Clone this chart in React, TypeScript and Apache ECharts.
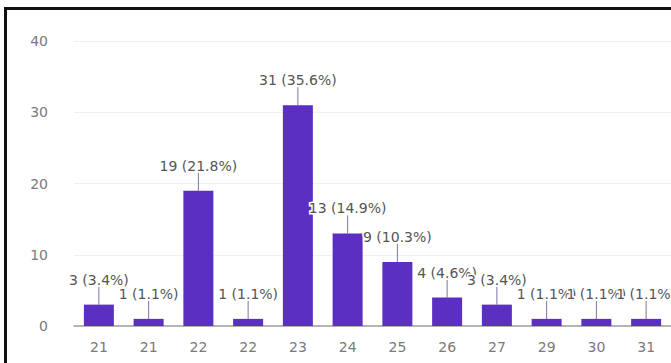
import React, { useEffect, useRef } from "react";
import * as echarts from "echarts";

// Age distribution of respondents (count per age)
const categories = ["21", "21", "22", "22", "23", "24", "25", "26", "27", "29", "30", "31"];
const counts = [3, 1, 19, 1, 31, 13, 9, 4, 3, 1, 1, 1];
const yTicks = { min: 0, max: 40, interval: 10 };

const total = counts.reduce((a, b) => a + b, 0);
const pctLabel = (v: number) => `${v} (${((v / total) * 100).toFixed(1)}%)`;

const FONT = "DejaVu Sans";
const BAR_COLOR = "#5a2fc2";
const LEADER = 18;

export default function App() {
  const ref = useRef<HTMLDivElement>(null);

  useEffect(() => {
    if (!ref.current) return;
    const chart = echarts.init(ref.current, null, { renderer: "svg" });
    chart.setOption({
      animation: false,
      backgroundColor: "#ffffff",
      grid: { left: 74, top: 41, width: 601, bottom: 37, containLabel: false },
      xAxis: {
        type: "category",
        data: categories,
        axisTick: { show: false },
        axisLine: { show: true, lineStyle: { color: "#9e9e9e", width: 1.5 } },
        axisLabel: { color: "#7a7a7a", fontFamily: FONT, fontSize: 14, margin: 14 },
        splitLine: { show: false },
      },
      yAxis: {
        type: "value",
        min: yTicks.min,
        max: yTicks.max,
        interval: yTicks.interval,
        axisLine: { show: false },
        axisTick: { show: false },
        axisLabel: { color: "#7a7a7a", fontFamily: FONT, fontSize: 14, margin: 26 },
        splitLine: { lineStyle: { color: "#f0f0f0", width: 1 } },
      },
      series: [
        {
          type: "custom",
          z: 1,
          data: counts.map((v, i) => [i, v]),
          renderItem: (_params: any, api: any) => {
            const p = api.coord([api.value(0), api.value(1)]);
            return {
              type: "line",
              shape: { x1: p[0], y1: p[1], x2: p[0], y2: p[1] - LEADER },
              style: { stroke: "#7f73a8", lineWidth: 1 },
            };
          },
        },
        {
          type: "bar",
          z: 2,
          data: counts,
          barWidth: 30,
          itemStyle: { color: BAR_COLOR },
          label: {
            show: true,
            position: "top",
            distance: LEADER,
            formatter: (p: any) => pctLabel(p.value),
            color: "#555555",
            fontFamily: FONT,
            fontSize: 14,
            textBorderColor: "#ffffff",
            textBorderWidth: 3,
          },
        },
      ],
      graphic: [
        {
          type: "line",
          shape: { x1: 4, y1: 8.5, x2: 671, y2: 8.5 },
          style: { stroke: "#111111", lineWidth: 3 },
        },
        {
          type: "line",
          shape: { x1: 5.5, y1: 7, x2: 5.5, y2: 363 },
          style: { stroke: "#111111", lineWidth: 3 },
        },
      ],
    });
    return () => chart.dispose();
  }, []);

  return (
    <div
      ref={ref}
      style={{ position: "absolute", left: 0, top: 0, width: 671, height: 363 }}
    />
  );
}
